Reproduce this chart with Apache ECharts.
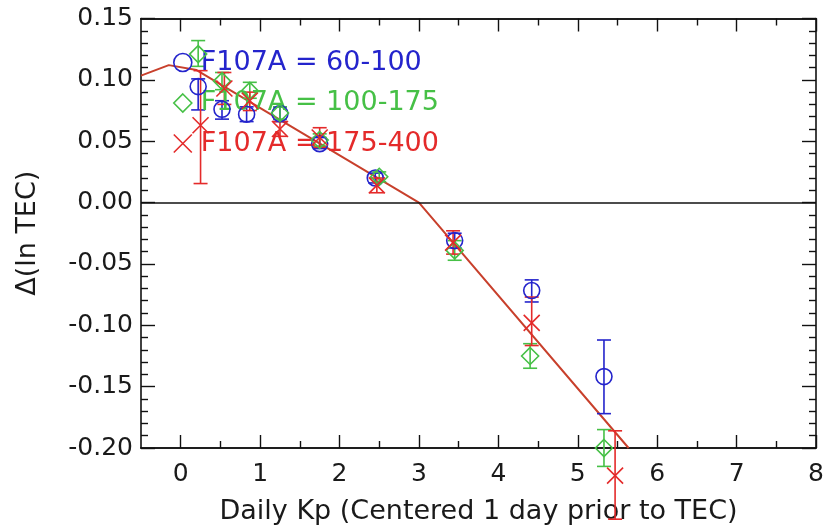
<!DOCTYPE html>
<html>
<head>
<meta charset="utf-8">
<script src="https://cdn.jsdelivr.net/npm/echarts@6/dist/echarts.min.js"></script>
<style>
html,body{margin:0;padding:0;background:#fff;}
#chart{width:831px;height:527px;}
</style>
</head>
<body>
<div id="chart"></div>
<script>
// ---- data ----
const xMajorTicks = [0, 1, 2, 3, 4, 5, 6, 7, 8];
const xMinorTicks = [0.5, 1.5, 2.5, 3.5, 4.5, 5.5, 6.5, 7.5];

const lowKp   = [0.22, 0.52, 0.83, 1.25, 1.75, 2.45, 3.45, 4.42, 5.33];
const lowVal  = [0.0945, 0.076, 0.072, 0.0725, 0.048, 0.020, -0.031, -0.0717, -0.1418];
const lowLo   = [0.0755, 0.068, 0.066, 0.066, 0.044, 0.016, -0.037, -0.081, -0.172];
const lowHi   = [0.1008, 0.083, 0.078, 0.078, 0.053, 0.024, -0.025, -0.063, -0.112];

const midKp   = [0.22, 0.52, 0.87, 1.25, 1.75, 2.50, 3.45, 4.40, 5.33];
const midVal  = [0.121, 0.099, 0.091, 0.073, 0.051, 0.021, -0.039, -0.125, -0.200];
const midLo   = [0.111, 0.092, 0.085, 0.068, 0.046, 0.017, -0.047, -0.135, -0.215];
const midHi   = [0.132, 0.106, 0.098, 0.078, 0.056, 0.025, -0.031, -0.115, -0.185];

const highKp  = [0.25, 0.55, 0.87, 1.25, 1.75, 2.47, 3.43, 4.42, 5.47];
const highVal = [0.063, 0.093, 0.083, 0.060, 0.053, 0.014, -0.0326, -0.098, -0.2225];
const highLo  = [0.0155, 0.080, 0.075, 0.054, 0.045, 0.008, -0.042, -0.1165, -0.258];
const highHi  = [0.1075, 0.106, 0.090, 0.066, 0.061, 0.020, -0.023, -0.077, -0.186];

const fitKp   = [-0.5, -0.15, 0.2, 3.0, 5.64];
const fitVal  = [0.1035, 0.112, 0.108, 0.0, -0.200];

const names = ['F107A = 60-100', 'F107A = 100-175', 'F107A = 175-400'];

// ---- styling ----
const BLUE = '#2424cc', GREEN = '#46c046', RED = '#e42a2a', FIT = '#c8402c';
const FONT = 'DejaVu Sans';
const XPATH = 'path://M0,0L20,20M20,0L0,20';

const zip2 = (a, b) => a.map((v, i) => [v, b[i]]);
const zip3 = (a, b, c) => a.map((v, i) => [v, b[i], c[i]]);

function errBars(name, color, kp, lo, hi) {
  return {
    type: 'custom', name: name + ' err', clip: false, silent: true, z: 3,
    data: zip3(kp, lo, hi),
    encode: { x: 0, y: [1, 2] },
    renderItem: function (params, api) {
      const x = api.value(0);
      const p1 = api.coord([x, api.value(2)]);
      const p2 = api.coord([x, api.value(1)]);
      const h = 7;
      const st = { stroke: color, lineWidth: 1.6 };
      return {
        type: 'group',
        children: [
          { type: 'line', shape: { x1: p1[0], y1: p1[1], x2: p2[0], y2: p2[1] }, style: st },
          { type: 'line', shape: { x1: p1[0] - h, y1: p1[1], x2: p1[0] + h, y2: p1[1] }, style: st },
          { type: 'line', shape: { x1: p2[0] - h, y1: p2[1], x2: p2[0] + h, y2: p2[1] }, style: st }
        ]
      };
    }
  };
}
function pts(name, color, symbol, size, kp, val) {
  return {
    type: 'scatter', name: name, clip: false, z: 4,
    symbol: symbol, symbolSize: size,
    itemStyle: { color: 'transparent', borderColor: color, borderWidth: 1.6, opacity: 1 },
    data: zip2(kp, val)
  };
}

const axisLineStyle = { color: '#111', width: 1.6 };
function xAxisDef(pos, ticks, len, labels) {
  return {
    type: 'value', position: pos, min: -0.5, max: 8,
    axisLine: { show: true, onZero: false, lineStyle: axisLineStyle },
    axisTick: { show: true, inside: true, length: len, customValues: ticks, lineStyle: { color: '#111', width: 1.4 } },
    axisLabel: labels ? { show: true, customValues: ticks, margin: 14, fontFamily: FONT, fontSize: 25, color: '#1a1a1a' } : { show: false },
    splitLine: { show: false },
    name: labels ? 'Daily Kp (Centered 1 day prior to TEC)' : '',
    nameLocation: 'middle', nameGap: 50,
    nameTextStyle: { fontFamily: FONT, fontSize: 27, color: '#1a1a1a' }
  };
}
function yAxisDef(pos, labels) {
  return {
    type: 'value', position: pos, min: -0.2, max: 0.15, interval: 0.05,
    axisLine: { show: true, onZero: false, lineStyle: axisLineStyle },
    axisTick: { show: true, inside: true, length: 14, lineStyle: { color: '#111', width: 1.4 } },
    minorTick: { show: true, splitNumber: 5, length: 7, lineStyle: { color: '#111', width: 1.4 } },
    axisLabel: labels ? { show: true, margin: 8, fontFamily: FONT, fontSize: 25, color: '#1a1a1a',
      formatter: v => v.toFixed(2) } : { show: false },
    splitLine: { show: false },
    name: labels ? 'Δ(ln TEC)' : '',
    nameLocation: 'middle', nameGap: 100, nameRotate: 90,
    nameTextStyle: { fontFamily: FONT, fontSize: 27, color: '#1a1a1a' }
  };
}

const chart = echarts.init(document.getElementById('chart'), null, { renderer: 'canvas' });
chart.setOption({
  backgroundColor: '#fff',
  animation: false,
  grid: { left: 141, right: 15, top: 18.5, bottom: 79, containLabel: false, outerBoundsMode: 'none' },
  xAxis: [
    xAxisDef('bottom', xMajorTicks, 13, true),
    xAxisDef('bottom', xMinorTicks, 7, false),
    xAxisDef('top', xMajorTicks, 13, false),
    xAxisDef('top', xMinorTicks, 7, false)
  ],
  yAxis: [yAxisDef('left', true), yAxisDef('right', false)],
  legend: {
    orient: 'vertical', left: 168, top: 44, itemGap: 13.5,
    itemWidth: 18, itemHeight: 18, selectedMode: false,
    textStyle: { fontFamily: FONT, fontSize: 27, padding: [0, 0, 0, 4] },
    data: [
      { name: names[0], icon: 'circle', itemStyle: { color: 'transparent', borderColor: BLUE, borderWidth: 1.6 }, textStyle: { color: BLUE } },
      { name: names[1], icon: 'diamond', itemStyle: { color: 'transparent', borderColor: GREEN, borderWidth: 1.6 }, textStyle: { color: GREEN } },
      { name: names[2], icon: XPATH, itemStyle: { color: 'transparent', borderColor: RED, borderWidth: 1.6 }, textStyle: { color: RED } }
    ]
  },
  series: [
    {
      type: 'line', name: 'fit', data: zip2(fitKp, fitVal), symbol: 'none', z: 2,
      lineStyle: { color: FIT, width: 2 }, silent: true,
      markLine: {
        silent: true, symbol: 'none', label: { show: false },
        lineStyle: { color: '#111', width: 1.6, type: 'solid' },
        data: [{ yAxis: 0 }]
      }
    },
    errBars(names[0], BLUE, lowKp, lowLo, lowHi),
    errBars(names[1], GREEN, midKp, midLo, midHi),
    errBars(names[2], RED, highKp, highLo, highHi),
    pts(names[0], BLUE, 'circle', 16, lowKp, lowVal),
    pts(names[1], GREEN, 'diamond', 17, midKp, midVal),
    pts(names[2], RED, XPATH, 16, highKp, highVal)
  ]
});
</script>
</body>
</html>
